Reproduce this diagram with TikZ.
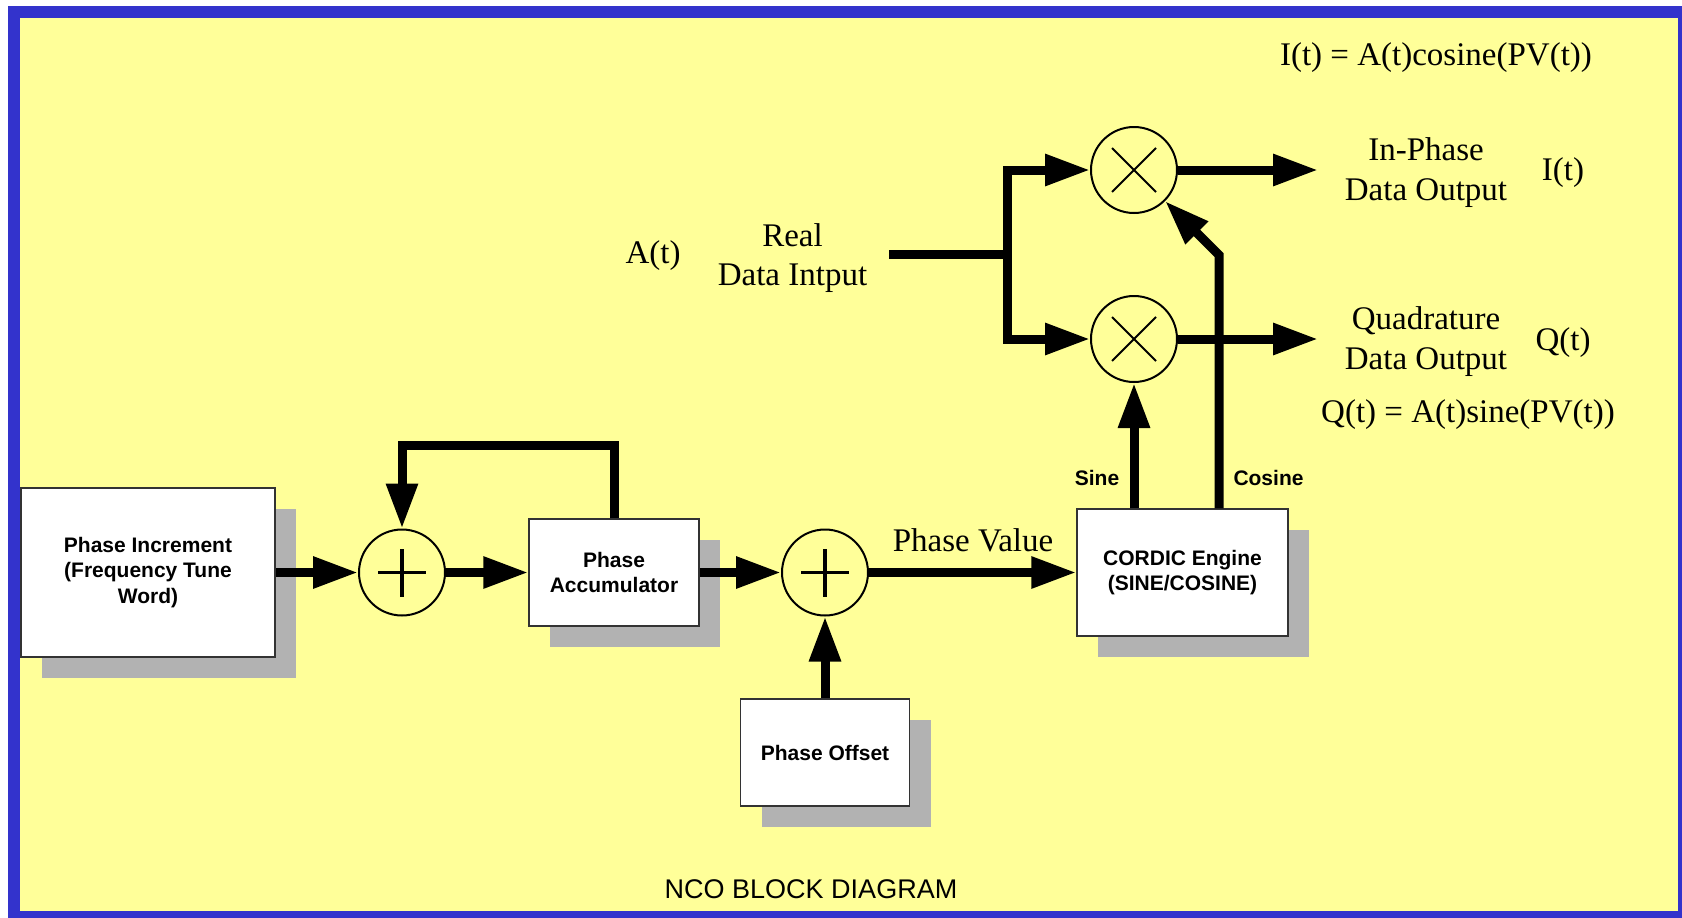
\documentclass[tikz,border=0pt]{standalone}
\usepackage{fontspec}
\setmainfont{Liberation Serif}
\setsansfont{Liberation Sans}
\usetikzlibrary{arrows.meta,shadows}

\definecolor{frameblue}{HTML}{3333CC}
\definecolor{paper}{HTML}{FFFF99}
\definecolor{shadowgray}{HTML}{B2B2B2}

\begin{document}
\begin{tikzpicture}[x=1pt, y=-1pt,
    block/.style={draw=black!80, line width=1.5pt, fill=white, inner sep=0pt, align=center,
      font=\sffamily\bfseries\fontsize{21}{25.5}\selectfont,
      drop shadow={shadow xshift=21pt, shadow yshift=-21pt, fill=shadowgray, opacity=1}},
    sum/.style={circle, draw, line width=2pt, minimum size=86pt, inner sep=0pt,
      path picture={\draw[line width=3.5pt]
        ([xshift=-24pt]path picture bounding box.center) -- ([xshift=24pt]path picture bounding box.center)
        ([yshift=-24pt]path picture bounding box.center) -- ([yshift=24pt]path picture bounding box.center);}},
    mult/.style={circle, draw, line width=2pt, minimum size=86pt, inner sep=0pt,
      path picture={\draw[line width=2pt]
        ([shift={(-22pt,-22pt)}]path picture bounding box.center) -- ([shift={(22pt,22pt)}]path picture bounding box.center)
        ([shift={(-22pt,22pt)}]path picture bounding box.center) -- ([shift={(22pt,-22pt)}]path picture bounding box.center);}},
    flow/.style={line width=9pt, -{Triangle[length=45pt, width=30pt]}},
    wire/.style={line width=9pt},
    lbl/.style={inner sep=0pt, font=\fontsize{33}{40}\selectfont},
    tag/.style={inner sep=0pt, font=\sffamily\bfseries\fontsize{21}{25.5}\selectfont}]

  % frame
  \useasboundingbox (0,0) rectangle (1682,918);
  \fill[frameblue] (8,6) rectangle (1682,918);
  \fill[paper] (20,18) rectangle (1678,911);

  % blocks
  \node[block, minimum width=254pt, minimum height=169pt] (inc) at (148,572.5)
    {Phase Increment\\(Frequency Tune\\Word)};
  \node[block, minimum width=170pt, minimum height=107pt] (acc) at (614,572.5)
    {Phase\\Accumulator};
  \node[block, minimum width=169pt, minimum height=107pt] (off) at (825,752.5)
    {Phase Offset};
  \node[block, minimum width=211pt, minimum height=127pt] (cordic) at (1182.5,572.5)
    {CORDIC Engine\\(SINE/COSINE)};

  \node[sum] (sumin) at (402,572.5) {};
  \node[sum] (sumoff) at (825,572.5) {};
  \node[mult] (mulI) at (1134,170) {};
  \node[mult] (mulQ) at (1134,339) {};

  \coordinate (fb) at (402,445);
  \coordinate (realin) at (889,254.5);
  \coordinate (split) at (1007.5,254.5);
  \coordinate (cosbend) at (1219,255);
  \coordinate (iout) at (1318,170);
  \coordinate (qout) at (1318,339);

  % phase path
  \draw[flow] (inc.east) -- (sumin.west);
  \draw[flow] (sumin.east) -- (acc.west);
  \draw[flow] (acc.north) |- (fb) -- (sumin.north);
  \draw[flow] (acc.east) -- (sumoff.west);
  \draw[flow] (off.north) -- (sumoff.south);
  \draw[flow] (sumoff.east) -- (cordic.west);

  % data path
  \draw[wire] (realin) -- (split);
  \draw[flow] (split) |- (mulI.west);
  \draw[flow] (split) |- (mulQ.west);
  \draw[flow] (mulQ.south |- cordic.north) -- (mulQ.south);
  \draw[flow] (cosbend |- cordic.north) -- (cosbend) -- (mulI.south east);
  \draw[flow] (mulI.east) -- (iout);
  \draw[flow] (mulQ.east) -- (qout);

  % labels
  \node[lbl, anchor=base] (pvlbl) at (973,551) {Phase Value};
  \node[tag, anchor=base] (sinlbl) at (1097,485) {Sine};
  \node[tag, anchor=base] (coslbl) at (1268.5,485) {Cosine};
  \node[lbl, anchor=base] (atlbl) at (653,263) {A(t)};
  \node[lbl, align=center, font=\fontsize{33}{39}\selectfont] (reallbl) at (792.5,258) {Real\\Data Intput};
  \node[lbl, align=center] (ilbl) at (1426,173) {In-Phase\\Data Output};
  \node[lbl, align=center] (qlbl) at (1426,342) {Quadrature\\Data Output};
  \node[lbl, anchor=base] (itlbl) at (1563,180) {I(t)};
  \node[lbl, anchor=base] (qtlbl) at (1563,350) {Q(t)};
  \node[lbl, anchor=base] (ieq) at (1436,65) {I(t) = A(t)cosine(PV(t))};
  \node[lbl, anchor=base] (qeq) at (1468,422) {Q(t) = A(t)sine(PV(t))};
  \node[inner sep=0pt, anchor=base, font=\sffamily\fontsize{27}{32}\selectfont] (title) at (811,898)
    {NCO BLOCK DIAGRAM};
\end{tikzpicture}
\end{document}
